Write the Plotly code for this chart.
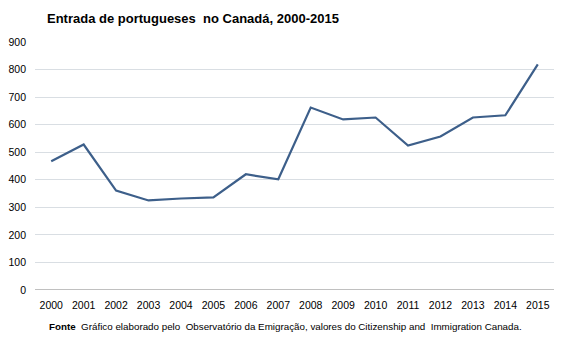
import plotly.graph_objects as go

years = [str(y) for y in range(2000, 2016)]
entradas = [467, 528, 361, 325, 332, 336, 420, 402, 662, 619, 626, 524, 557, 626, 634, 819]
y_ticks = [0, 100, 200, 300, 400, 500, 600, 700, 800, 900]

title_text = "Entrada de portugueses  no Canadá, 2000-2015"
source_text = "<b>Fonte</b>  Gráfico elaborado pelo  Observatório da Emigração, valores do Citizenship and  Immigration Canada."

fig = go.Figure()
fig.add_trace(go.Scatter(
    x=years, y=entradas, mode="lines",
    line=dict(color="#3D5F8A", width=2.2),
    hoverinfo="x+y",
))

fig.update_layout(
    width=567, height=340,
    margin=dict(l=35, r=13, t=42, b=50),
    paper_bgcolor="white", plot_bgcolor="white",
    font=dict(family="Liberation Sans, Arial, sans-serif", color="#000000", size=10.5),
    showlegend=False,
    title=dict(text="<b>" + title_text + "</b>", x=47/567, xanchor="left",
               y=1 - 18/340, yanchor="middle",
               font=dict(size=13, color="#000000")),
    xaxis=dict(type="category", range=[-0.5, 15.5], showgrid=False,
               showline=False, ticks="", tickfont=dict(size=10.5),
               zeroline=False, automargin=False, ticklabelstandoff=7),
    yaxis=dict(range=[0, 900], tickvals=y_ticks, showgrid=True,
               gridcolor="#D9DEE3", gridwidth=1, zeroline=False,
               ticks="", tickfont=dict(size=10.5), ticklabelstandoff=8,
               showline=False, automargin=False),
    annotations=[dict(text=source_text, xref="paper", yref="paper",
                      x=(47-35)/(567-35-13), y=-(326-290)/(340-42-50),
                      xanchor="left", yanchor="middle", showarrow=False,
                      font=dict(size=9.8, color="#000000"))],
    shapes=[dict(type="line", xref="paper", yref="y", x0=0, x1=1, y0=0, y1=0,
                 line=dict(color="#808080", width=1))],
)

fig.write_html("out.html")
